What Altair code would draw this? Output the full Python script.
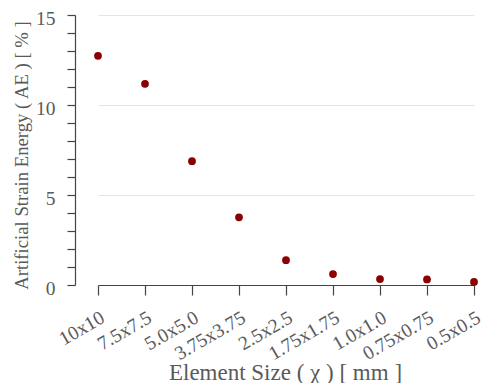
import altair as alt
import pandas as pd

sizes = ["10x10", "7.5x7.5", "5.0x5.0", "3.75x3.75", "2.5x2.5",
         "1.75x1.75", "1.0x1.0", "0.75x0.75", "0.5x0.5"]
ae = [12.73, 11.18, 6.88, 3.76, 1.38, 0.61, 0.33, 0.31, 0.17]

df = pd.DataFrame({"size": sizes, "ae": ae})

FONT = "Liberation Serif"
GRAY = "#5a5a5a"

chart = alt.Chart(df).mark_circle(size=60, color="#8b0000", opacity=1).encode(
    x=alt.X("size:N", sort=sizes, title="Element Size ( χ ) [ mm ]",
            scale=alt.Scale(range=[23, 399], padding=0),
            axis=alt.Axis(labelAngle=-30, labelAlign="right", labelBaseline="top",
                          tickSize=10, grid=False, labelPadding=13,
                          titleFontSize=23, titleX=210, titleY=94,
                          titleBaseline="alphabetic", titleAlign="center")),
    y=alt.Y("ae:Q", title="Artificial Strain Energy ( AE ) [ % ]",
            scale=alt.Scale(domain=[0, 15], nice=False),
            axis=alt.Axis(values=list(range(0, 16)),
                          labelExpr="datum.value % 5 === 0 ? datum.label : ''",
                          gridOpacity={"condition": {"test": "datum.value % 5 === 0", "value": 1}, "value": 0},
                          tickSize=8, labelPadding=12, labelOffset=3,
                          titleFontSize=18.7, titleX=-48, titleY=140, titleAngle=-90,
                          titleBaseline="alphabetic", titleAlign="center")),
).properties(
    width=409, height=270,
    autosize=alt.AutoSizeParams(type="none"),
    padding={"left": 67, "top": 7, "right": 0, "bottom": 98}
).configure_view(stroke=None).configure_axis(
    labelFont=FONT, titleFont=FONT, labelFontSize=19.5,
    labelColor=GRAY, titleColor=GRAY, titleFontWeight="normal",
    domainColor="#444444", tickColor="#444444", gridColor="#e6e6e6",
    domainWidth=1.2, tickWidth=1.2
)

chart.save("out.html", embed_options={"renderer": "svg", "actions": False})
